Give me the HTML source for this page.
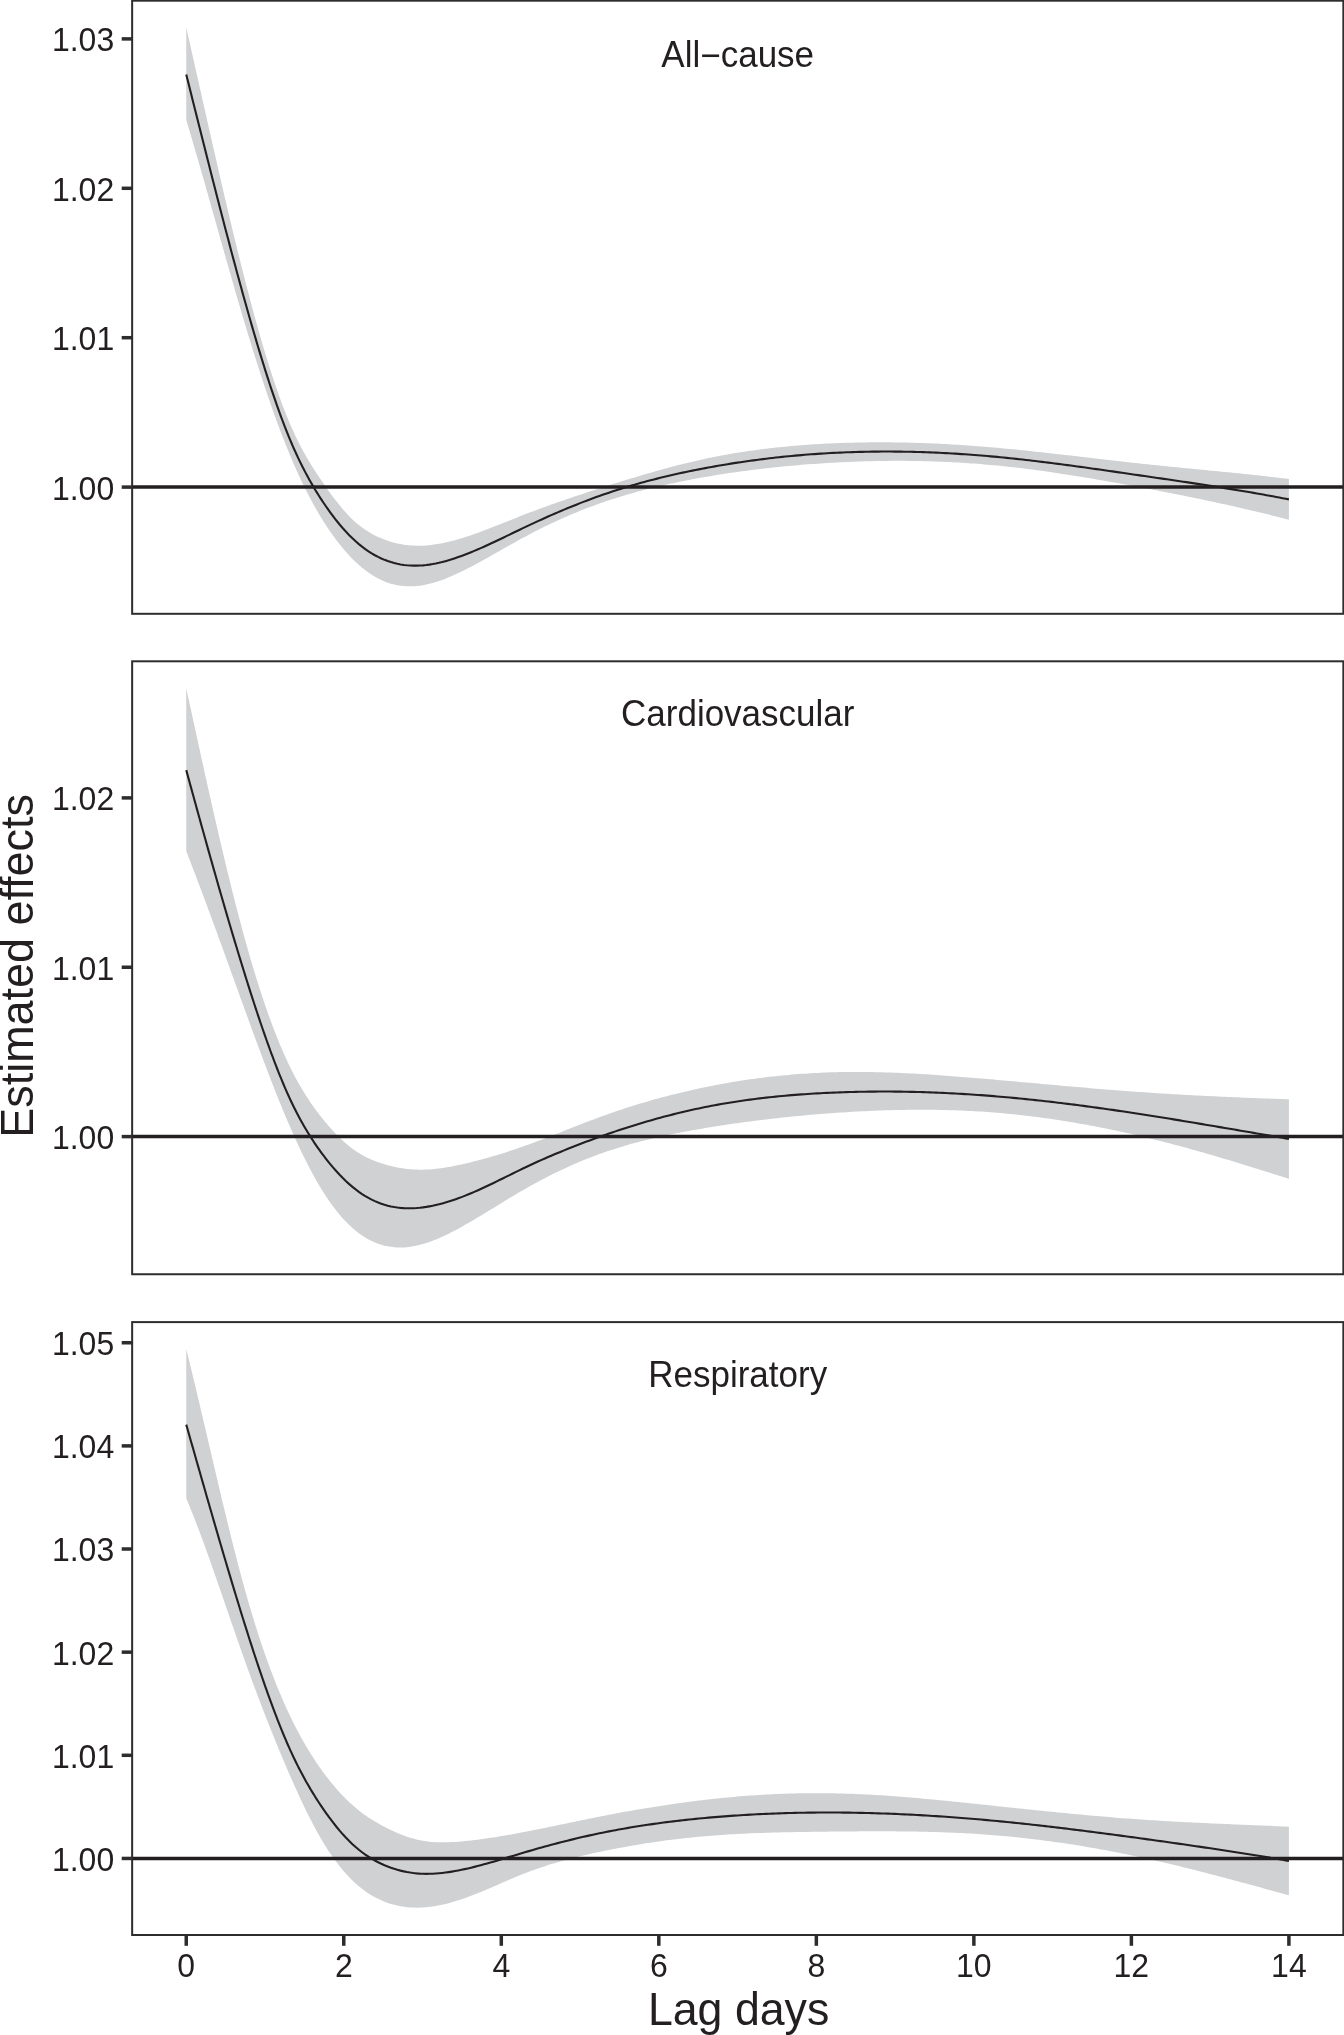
<!DOCTYPE html>
<html lang="en"><head><meta charset="utf-8"><title>Lag-response curves</title>
<style>html,body{margin:0;padding:0;background:#fff}svg{display:block;will-change:transform}</style></head>
<body>
<svg width="1344" height="2035" viewBox="0 0 1344 2035" font-family="'Liberation Sans', sans-serif" fill="#231f20">
<rect width="1344" height="2035" fill="#fff"/>
<path d="M186.25 27.50L187.45 32.78L188.65 38.07L189.84 43.37L191.04 48.68L192.24 53.99L193.44 59.31L194.64 64.63L195.83 69.96L197.03 75.29L198.23 80.62L199.43 85.95L200.62 91.28L201.82 96.60L203.02 101.93L204.22 107.25L205.42 112.57L206.61 117.89L207.81 123.19L209.01 128.50L210.21 133.79L211.41 139.08L212.60 144.35L213.80 149.62L215.00 154.87L216.20 160.12L217.40 165.35L218.59 170.56L219.79 175.76L220.99 180.95L222.19 186.12L223.39 191.27L224.58 196.40L225.78 201.52L226.98 206.61L228.18 211.68L229.38 216.73L230.57 221.76L231.77 226.76L232.97 231.74L234.17 236.70L235.36 241.63L236.56 246.53L237.76 251.40L238.96 256.24L240.16 261.05L241.35 265.84L242.55 270.59L243.75 275.30L244.95 279.99L246.15 284.64L247.34 289.25L248.54 293.83L249.74 298.37L250.94 302.87L252.14 307.34L253.33 311.76L254.53 316.15L255.73 320.49L256.93 324.79L258.12 329.05L259.32 333.27L260.52 337.44L261.72 341.56L262.92 345.64L264.11 349.68L265.31 353.66L266.51 357.60L267.71 361.49L268.91 365.33L270.10 369.11L271.30 372.85L272.50 376.53L273.70 380.16L274.90 383.74L276.09 387.26L277.29 390.72L278.49 394.13L279.69 397.48L280.89 400.78L282.08 404.01L283.28 407.18L284.48 410.30L285.68 413.35L286.88 416.34L288.07 419.26L289.27 422.13L290.47 424.93L291.67 427.66L292.86 430.33L294.06 432.94L295.26 435.49L296.46 437.99L297.66 440.43L298.85 442.82L300.05 445.16L301.25 447.44L302.45 449.69L303.65 451.88L304.84 454.04L306.04 456.15L307.24 458.23L308.44 460.27L309.64 462.27L310.83 464.24L312.03 466.18L313.23 468.10L314.43 469.98L315.62 471.84L316.82 473.68L318.02 475.49L319.22 477.29L320.42 479.07L321.61 480.83L322.81 482.59L324.01 484.32L325.21 486.05L326.41 487.76L327.60 489.45L328.80 491.13L330.00 492.79L333.21 497.14L336.41 501.34L339.62 505.37L342.83 509.21L346.04 512.86L349.24 516.28L352.45 519.46L355.66 522.39L358.86 525.09L362.07 527.56L365.28 529.81L368.48 531.87L371.69 533.74L374.90 535.44L378.11 536.97L381.31 538.36L384.52 539.62L387.73 540.75L390.93 541.76L394.14 542.66L397.35 543.43L400.55 544.09L403.76 544.64L406.97 545.08L410.18 545.40L413.38 545.62L416.59 545.74L419.80 545.75L423.00 545.66L426.21 545.47L429.42 545.19L432.62 544.82L435.83 544.36L439.04 543.83L442.25 543.22L445.45 542.54L448.66 541.80L451.87 540.99L455.07 540.13L458.28 539.22L461.49 538.26L464.69 537.25L467.90 536.21L471.11 535.13L474.32 534.02L477.52 532.88L480.73 531.71L483.94 530.51L487.14 529.30L490.35 528.07L493.56 526.82L496.77 525.56L499.97 524.29L503.18 523.01L506.39 521.72L509.59 520.44L512.80 519.16L516.01 517.88L519.21 516.61L522.42 515.34L525.63 514.10L528.84 512.86L532.04 511.64L535.25 510.44L538.46 509.24L541.66 508.06L544.87 506.90L548.08 505.74L551.28 504.60L554.49 503.46L557.70 502.34L560.91 501.23L564.11 500.13L567.32 499.03L570.53 497.94L573.73 496.87L576.94 495.80L580.15 494.73L583.35 493.67L586.56 492.62L589.77 491.57L592.98 490.53L596.18 489.49L599.39 488.46L602.60 487.43L605.80 486.40L609.01 485.37L612.22 484.35L615.43 483.34L618.63 482.33L621.84 481.33L625.05 480.33L628.25 479.34L631.46 478.36L634.67 477.38L637.87 476.41L641.08 475.45L644.29 474.50L647.50 473.56L650.70 472.63L653.91 471.71L657.12 470.80L660.32 469.90L663.53 469.02L666.74 468.14L669.94 467.28L673.15 466.44L676.36 465.60L679.57 464.78L682.77 463.98L685.98 463.18L689.19 462.41L692.39 461.65L695.60 460.91L698.81 460.18L702.01 459.47L705.22 458.78L708.43 458.11L711.64 457.45L714.84 456.81L718.05 456.19L721.26 455.58L724.46 454.99L727.67 454.42L730.88 453.86L734.08 453.32L737.29 452.79L740.50 452.28L743.71 451.78L746.91 451.30L750.12 450.83L753.33 450.38L756.53 449.94L759.74 449.52L762.95 449.11L766.16 448.72L769.36 448.33L772.57 447.97L775.78 447.61L778.98 447.27L782.19 446.94L785.40 446.63L788.60 446.32L791.81 446.03L795.02 445.76L798.23 445.49L801.43 445.24L804.64 444.99L807.85 444.76L811.05 444.54L814.26 444.34L817.47 444.14L820.67 443.95L823.88 443.78L827.09 443.61L830.30 443.46L833.50 443.31L836.71 443.18L839.92 443.05L843.12 442.94L846.33 442.83L849.54 442.74L852.74 442.65L855.95 442.57L859.16 442.51L862.37 442.45L865.57 442.40L868.78 442.37L871.99 442.34L875.19 442.32L878.40 442.31L881.61 442.31L884.82 442.31L888.02 442.33L891.23 442.36L894.44 442.39L897.64 442.43L900.85 442.49L904.06 442.55L907.26 442.62L910.47 442.69L913.68 442.78L916.89 442.88L920.09 442.98L923.30 443.09L926.51 443.21L929.71 443.34L932.92 443.47L936.13 443.62L939.33 443.77L942.54 443.93L945.75 444.10L948.96 444.27L952.16 444.46L955.37 444.65L958.58 444.85L961.78 445.05L964.99 445.26L968.20 445.49L971.40 445.71L974.61 445.95L977.82 446.19L981.03 446.44L984.23 446.70L987.44 446.96L990.65 447.23L993.85 447.51L997.06 447.79L1000.27 448.08L1003.47 448.38L1006.68 448.68L1009.89 448.99L1013.10 449.31L1016.30 449.62L1019.51 449.95L1022.72 450.28L1025.92 450.61L1029.13 450.95L1032.34 451.29L1035.55 451.63L1038.75 451.98L1041.96 452.34L1045.17 452.69L1048.37 453.05L1051.58 453.41L1054.79 453.77L1057.99 454.14L1061.20 454.51L1064.41 454.88L1067.62 455.25L1070.82 455.62L1074.03 456.00L1077.24 456.37L1080.44 456.75L1083.65 457.12L1086.86 457.50L1090.06 457.87L1093.27 458.25L1096.48 458.62L1099.69 459.00L1102.89 459.37L1106.10 459.74L1109.31 460.11L1112.51 460.48L1115.72 460.85L1118.93 461.21L1122.13 461.58L1125.34 461.94L1128.55 462.29L1131.76 462.65L1134.96 463.00L1138.17 463.35L1141.38 463.69L1144.58 464.03L1147.79 464.37L1151.00 464.70L1154.21 465.03L1157.41 465.36L1160.62 465.68L1163.83 466.00L1167.03 466.32L1170.24 466.64L1173.45 466.95L1176.65 467.27L1179.86 467.58L1183.07 467.89L1186.28 468.20L1189.48 468.52L1192.69 468.83L1195.90 469.13L1199.10 469.44L1202.31 469.75L1205.52 470.06L1208.72 470.38L1211.93 470.69L1215.14 471.00L1218.35 471.31L1221.55 471.63L1224.76 471.95L1227.97 472.27L1231.17 472.59L1234.38 472.91L1237.59 473.24L1240.79 473.57L1244.00 473.90L1247.21 474.24L1250.42 474.57L1253.62 474.92L1256.83 475.26L1260.04 475.62L1263.24 475.97L1266.45 476.33L1269.66 476.70L1272.86 477.07L1276.07 477.44L1279.28 477.82L1282.49 478.21L1285.69 478.60L1288.90 479.00L1288.90 519.75L1285.69 518.91L1282.49 518.09L1279.28 517.27L1276.07 516.45L1272.86 515.65L1269.66 514.85L1266.45 514.06L1263.24 513.27L1260.04 512.49L1256.83 511.72L1253.62 510.96L1250.42 510.20L1247.21 509.45L1244.00 508.71L1240.79 507.97L1237.59 507.23L1234.38 506.51L1231.17 505.79L1227.97 505.07L1224.76 504.36L1221.55 503.66L1218.35 502.96L1215.14 502.26L1211.93 501.58L1208.72 500.89L1205.52 500.21L1202.31 499.54L1199.10 498.87L1195.90 498.21L1192.69 497.55L1189.48 496.89L1186.28 496.24L1183.07 495.59L1179.86 494.95L1176.65 494.31L1173.45 493.67L1170.24 493.04L1167.03 492.41L1163.83 491.79L1160.62 491.17L1157.41 490.55L1154.21 489.93L1151.00 489.32L1147.79 488.71L1144.58 488.11L1141.38 487.50L1138.17 486.90L1134.96 486.30L1131.76 485.71L1128.55 485.11L1125.34 484.52L1122.13 483.94L1118.93 483.35L1115.72 482.77L1112.51 482.20L1109.31 481.63L1106.10 481.06L1102.89 480.50L1099.69 479.94L1096.48 479.38L1093.27 478.84L1090.06 478.29L1086.86 477.75L1083.65 477.22L1080.44 476.69L1077.24 476.17L1074.03 475.66L1070.82 475.15L1067.62 474.64L1064.41 474.15L1061.20 473.66L1057.99 473.17L1054.79 472.70L1051.58 472.23L1048.37 471.77L1045.17 471.32L1041.96 470.87L1038.75 470.43L1035.55 470.00L1032.34 469.58L1029.13 469.17L1025.92 468.76L1022.72 468.37L1019.51 467.98L1016.30 467.61L1013.10 467.24L1009.89 466.88L1006.68 466.53L1003.47 466.19L1000.27 465.87L997.06 465.55L993.85 465.24L990.65 464.94L987.44 464.66L984.23 464.38L981.03 464.12L977.82 463.86L974.61 463.62L971.40 463.39L968.20 463.17L964.99 462.96L961.78 462.76L958.58 462.57L955.37 462.39L952.16 462.22L948.96 462.06L945.75 461.91L942.54 461.77L939.33 461.64L936.13 461.52L932.92 461.41L929.71 461.31L926.51 461.22L923.30 461.14L920.09 461.07L916.89 461.01L913.68 460.96L910.47 460.92L907.26 460.89L904.06 460.87L900.85 460.86L897.64 460.85L894.44 460.86L891.23 460.87L888.02 460.90L884.82 460.93L881.61 460.98L878.40 461.03L875.19 461.09L871.99 461.16L868.78 461.24L865.57 461.32L862.37 461.42L859.16 461.53L855.95 461.64L852.74 461.76L849.54 461.89L846.33 462.03L843.12 462.18L839.92 462.34L836.71 462.50L833.50 462.68L830.30 462.86L827.09 463.05L823.88 463.24L820.67 463.45L817.47 463.66L814.26 463.89L811.05 464.12L807.85 464.36L804.64 464.61L801.43 464.86L798.23 465.13L795.02 465.41L791.81 465.69L788.60 465.98L785.40 466.28L782.19 466.60L778.98 466.92L775.78 467.25L772.57 467.58L769.36 467.93L766.16 468.29L762.95 468.66L759.74 469.03L756.53 469.42L753.33 469.82L750.12 470.22L746.91 470.64L743.71 471.07L740.50 471.50L737.29 471.95L734.08 472.41L730.88 472.87L727.67 473.35L724.46 473.84L721.26 474.33L718.05 474.84L714.84 475.36L711.64 475.89L708.43 476.43L705.22 476.98L702.01 477.54L698.81 478.12L695.60 478.70L692.39 479.30L689.19 479.90L685.98 480.52L682.77 481.16L679.57 481.80L676.36 482.46L673.15 483.14L669.94 483.83L666.74 484.53L663.53 485.25L660.32 485.99L657.12 486.74L653.91 487.51L650.70 488.30L647.50 489.10L644.29 489.92L641.08 490.76L637.87 491.62L634.67 492.50L631.46 493.40L628.25 494.32L625.05 495.26L621.84 496.23L618.63 497.21L615.43 498.22L612.22 499.24L609.01 500.30L605.80 501.37L602.60 502.47L599.39 503.59L596.18 504.74L592.98 505.92L589.77 507.11L586.56 508.34L583.35 509.58L580.15 510.86L576.94 512.16L573.73 513.48L570.53 514.83L567.32 516.20L564.11 517.60L560.91 519.02L557.70 520.47L554.49 521.95L551.28 523.45L548.08 524.98L544.87 526.53L541.66 528.10L538.46 529.71L535.25 531.34L532.04 532.99L528.84 534.67L525.63 536.38L522.42 538.11L519.21 539.87L516.01 541.64L512.80 543.43L509.59 545.24L506.39 547.05L503.18 548.87L499.97 550.70L496.77 552.52L493.56 554.34L490.35 556.15L487.14 557.95L483.94 559.73L480.73 561.50L477.52 563.25L474.32 564.97L471.11 566.66L467.90 568.32L464.69 569.95L461.49 571.54L458.28 573.08L455.07 574.57L451.87 576.00L448.66 577.37L445.45 578.67L442.25 579.89L439.04 581.02L435.83 582.06L432.62 583.01L429.42 583.85L426.21 584.59L423.00 585.20L419.80 585.69L416.59 586.06L413.38 586.28L410.18 586.37L406.97 586.31L403.76 586.11L400.55 585.74L397.35 585.22L394.14 584.53L390.93 583.68L387.73 582.64L384.52 581.43L381.31 580.03L378.11 578.45L374.90 576.67L371.69 574.71L368.48 572.56L365.28 570.21L362.07 567.67L358.86 564.94L355.66 562.01L352.45 558.88L349.24 555.55L346.04 552.02L342.83 548.30L339.62 544.36L336.41 540.22L333.21 535.87L330.00 531.31L328.80 529.55L327.60 527.76L326.41 525.95L325.21 524.10L324.01 522.22L322.81 520.31L321.61 518.37L320.42 516.41L319.22 514.41L318.02 512.38L316.82 510.31L315.62 508.22L314.43 506.09L313.23 503.93L312.03 501.74L310.83 499.52L309.64 497.26L308.44 494.97L307.24 492.64L306.04 490.28L304.84 487.89L303.65 485.46L302.45 483.00L301.25 480.50L300.05 477.96L298.85 475.39L297.66 472.78L296.46 470.13L295.26 467.45L294.06 464.73L292.86 461.97L291.67 459.18L290.47 456.35L289.27 453.47L288.07 450.56L286.88 447.61L285.68 444.63L284.48 441.60L283.28 438.54L282.08 435.44L280.89 432.31L279.69 429.14L278.49 425.94L277.29 422.70L276.09 419.43L274.90 416.13L273.70 412.79L272.50 409.42L271.30 406.02L270.10 402.59L268.91 399.12L267.71 395.63L266.51 392.10L265.31 388.55L264.11 384.97L262.92 381.35L261.72 377.71L260.52 374.04L259.32 370.35L258.12 366.62L256.93 362.87L255.73 359.10L254.53 355.30L253.33 351.47L252.14 347.62L250.94 343.75L249.74 339.85L248.54 335.93L247.34 331.98L246.15 328.02L244.95 324.03L243.75 320.02L242.55 315.99L241.35 311.94L240.16 307.87L238.96 303.78L237.76 299.68L236.56 295.56L235.36 291.43L234.17 287.28L232.97 283.12L231.77 278.95L230.57 274.76L229.38 270.57L228.18 266.36L226.98 262.15L225.78 257.93L224.58 253.70L223.39 249.46L222.19 245.22L220.99 240.98L219.79 236.73L218.59 232.48L217.40 228.23L216.20 223.97L215.00 219.72L213.80 215.47L212.60 211.22L211.41 206.97L210.21 202.73L209.01 198.49L207.81 194.25L206.61 190.03L205.42 185.81L204.22 181.60L203.02 177.39L201.82 173.20L200.62 169.02L199.43 164.85L198.23 160.69L197.03 156.55L195.83 152.42L194.64 148.30L193.44 144.20L192.24 140.12L191.04 136.06L189.84 132.01L188.65 127.99L187.45 123.98L186.25 120.00Z" fill="#d0d1d3"/>
<path d="M186.25 74.50L187.45 79.28L188.65 84.05L189.84 88.83L191.04 93.61L192.24 98.39L193.44 103.17L194.64 107.94L195.83 112.72L197.03 117.50L198.23 122.27L199.43 127.04L200.62 131.80L201.82 136.56L203.02 141.32L204.22 146.07L205.42 150.82L206.61 155.56L207.81 160.30L209.01 165.02L210.21 169.74L211.41 174.46L212.60 179.16L213.80 183.86L215.00 188.54L216.20 193.22L217.40 197.89L218.59 202.54L219.79 207.19L220.99 211.82L222.19 216.44L223.39 221.05L224.58 225.65L225.78 230.23L226.98 234.80L228.18 239.35L229.38 243.89L230.57 248.41L231.77 252.92L232.97 257.41L234.17 261.88L235.36 266.34L236.56 270.78L237.76 275.19L238.96 279.59L240.16 283.98L241.35 288.34L242.55 292.68L243.75 297.00L244.95 301.29L246.15 305.57L247.34 309.82L248.54 314.05L249.74 318.26L250.94 322.44L252.14 326.59L253.33 330.72L254.53 334.82L255.73 338.89L256.93 342.93L258.12 346.94L259.32 350.92L260.52 354.87L261.72 358.79L262.92 362.67L264.11 366.52L265.31 370.33L266.51 374.10L267.71 377.84L268.91 381.54L270.10 385.20L271.30 388.83L272.50 392.41L273.70 395.95L274.90 399.45L276.09 402.90L277.29 406.31L278.49 409.68L279.69 413.00L280.89 416.28L282.08 419.51L283.28 422.69L284.48 425.82L285.68 428.90L286.88 431.93L288.07 434.91L289.27 437.84L290.47 440.71L291.67 443.53L292.86 446.30L294.06 449.02L295.26 451.69L296.46 454.31L297.66 456.88L298.85 459.40L300.05 461.88L301.25 464.31L302.45 466.71L303.65 469.05L304.84 471.36L306.04 473.63L307.24 475.85L308.44 478.04L309.64 480.19L310.83 482.31L312.03 484.39L313.23 486.44L314.43 488.45L315.62 490.43L316.82 492.38L318.02 494.31L319.22 496.20L320.42 498.06L321.61 499.90L322.81 501.72L324.01 503.51L325.21 505.27L326.41 507.01L327.60 508.72L328.80 510.41L330.00 512.07L333.21 516.39L336.41 520.52L339.62 524.47L342.83 528.22L346.04 531.78L349.24 535.15L352.45 538.32L355.66 541.30L358.86 544.08L362.07 546.67L365.28 549.08L368.48 551.30L371.69 553.35L374.90 555.22L378.11 556.92L381.31 558.46L384.52 559.84L387.73 561.06L390.93 562.12L394.14 563.04L397.35 563.81L400.55 564.44L403.76 564.94L406.97 565.30L410.18 565.54L413.38 565.66L416.59 565.66L419.80 565.55L423.00 565.33L426.21 565.01L429.42 564.59L432.62 564.07L435.83 563.47L439.04 562.78L442.25 562.01L445.45 561.16L448.66 560.24L451.87 559.25L455.07 558.21L458.28 557.10L461.49 555.94L464.69 554.73L467.90 553.48L471.11 552.19L474.32 550.86L477.52 549.49L480.73 548.10L483.94 546.67L487.14 545.22L490.35 543.75L493.56 542.25L496.77 540.74L499.97 539.22L503.18 537.68L506.39 536.14L509.59 534.59L512.80 533.04L516.01 531.49L519.21 529.94L522.42 528.41L525.63 526.88L528.84 525.36L532.04 523.86L535.25 522.37L538.46 520.90L541.66 519.44L544.87 517.99L548.08 516.56L551.28 515.14L554.49 513.74L557.70 512.35L560.91 510.98L564.11 509.63L567.32 508.30L570.53 506.98L573.73 505.68L576.94 504.40L580.15 503.13L583.35 501.89L586.56 500.66L589.77 499.45L592.98 498.27L596.18 497.10L599.39 495.95L602.60 494.83L605.80 493.72L609.01 492.64L612.22 491.57L615.43 490.53L618.63 489.50L621.84 488.50L625.05 487.51L628.25 486.54L631.46 485.59L634.67 484.66L637.87 483.75L641.08 482.85L644.29 481.97L647.50 481.11L650.70 480.26L653.91 479.43L657.12 478.62L660.32 477.82L663.53 477.04L666.74 476.27L669.94 475.52L673.15 474.78L676.36 474.05L679.57 473.34L682.77 472.65L685.98 471.96L689.19 471.29L692.39 470.63L695.60 469.99L698.81 469.36L702.01 468.73L705.22 468.12L708.43 467.52L711.64 466.94L714.84 466.36L718.05 465.80L721.26 465.25L724.46 464.71L727.67 464.18L730.88 463.66L734.08 463.15L737.29 462.66L740.50 462.17L743.71 461.70L746.91 461.24L750.12 460.79L753.33 460.35L756.53 459.92L759.74 459.50L762.95 459.10L766.16 458.70L769.36 458.32L772.57 457.94L775.78 457.58L778.98 457.23L782.19 456.89L785.40 456.56L788.60 456.24L791.81 455.94L795.02 455.64L798.23 455.35L801.43 455.08L804.64 454.81L807.85 454.56L811.05 454.31L814.26 454.08L817.47 453.86L820.67 453.65L823.88 453.45L827.09 453.25L830.30 453.07L833.50 452.90L836.71 452.74L839.92 452.59L843.12 452.45L846.33 452.32L849.54 452.21L852.74 452.10L855.95 452.00L859.16 451.91L862.37 451.83L865.57 451.76L868.78 451.70L871.99 451.65L875.19 451.61L878.40 451.58L881.61 451.56L884.82 451.55L888.02 451.55L891.23 451.56L894.44 451.58L897.64 451.61L900.85 451.64L904.06 451.69L907.26 451.75L910.47 451.81L913.68 451.88L916.89 451.97L920.09 452.06L923.30 452.16L926.51 452.27L929.71 452.39L932.92 452.52L936.13 452.66L939.33 452.81L942.54 452.96L945.75 453.13L948.96 453.30L952.16 453.48L955.37 453.67L958.58 453.87L961.78 454.08L964.99 454.30L968.20 454.52L971.40 454.76L974.61 455.00L977.82 455.25L981.03 455.51L984.23 455.77L987.44 456.05L990.65 456.33L993.85 456.62L997.06 456.92L1000.27 457.23L1003.47 457.54L1006.68 457.86L1009.89 458.19L1013.10 458.53L1016.30 458.87L1019.51 459.22L1022.72 459.58L1025.92 459.94L1029.13 460.31L1032.34 460.68L1035.55 461.06L1038.75 461.44L1041.96 461.84L1045.17 462.23L1048.37 462.63L1051.58 463.04L1054.79 463.45L1057.99 463.86L1061.20 464.28L1064.41 464.70L1067.62 465.13L1070.82 465.56L1074.03 466.00L1077.24 466.43L1080.44 466.87L1083.65 467.32L1086.86 467.76L1090.06 468.21L1093.27 468.67L1096.48 469.12L1099.69 469.57L1102.89 470.03L1106.10 470.49L1109.31 470.95L1112.51 471.41L1115.72 471.88L1118.93 472.34L1122.13 472.81L1125.34 473.27L1128.55 473.74L1131.76 474.21L1134.96 474.67L1138.17 475.14L1141.38 475.60L1144.58 476.07L1147.79 476.53L1151.00 477.00L1154.21 477.46L1157.41 477.93L1160.62 478.40L1163.83 478.86L1167.03 479.33L1170.24 479.80L1173.45 480.27L1176.65 480.74L1179.86 481.21L1183.07 481.69L1186.28 482.16L1189.48 482.64L1192.69 483.12L1195.90 483.61L1199.10 484.09L1202.31 484.58L1205.52 485.07L1208.72 485.56L1211.93 486.06L1215.14 486.56L1218.35 487.07L1221.55 487.57L1224.76 488.09L1227.97 488.60L1231.17 489.12L1234.38 489.65L1237.59 490.18L1240.79 490.71L1244.00 491.25L1247.21 491.79L1250.42 492.34L1253.62 492.90L1256.83 493.46L1260.04 494.02L1263.24 494.59L1266.45 495.17L1269.66 495.75L1272.86 496.34L1276.07 496.94L1279.28 497.55L1282.49 498.16L1285.69 498.77L1288.90 499.40" fill="none" stroke="#231f20" stroke-width="2.1"/>
<line x1="132.15" x2="1343.35" y1="487.1" y2="487.1" stroke="#231f20" stroke-width="3.5"/>
<rect x="132.15" y="0.7" width="1211.1999999999998" height="613.10" fill="none" stroke="#2e2c2d" stroke-width="2"/>
<line x1="121.7" x2="132.15" y1="38.9" y2="38.9" stroke="#2e2c2d" stroke-width="3.5"/>
<text transform="translate(114.2 51.3) scale(1 1.045)" font-size="32" text-anchor="end">1.03</text>
<line x1="121.7" x2="132.15" y1="188.3" y2="188.3" stroke="#2e2c2d" stroke-width="3.5"/>
<text transform="translate(114.2 200.7) scale(1 1.045)" font-size="32" text-anchor="end">1.02</text>
<line x1="121.7" x2="132.15" y1="337.7" y2="337.7" stroke="#2e2c2d" stroke-width="3.5"/>
<text transform="translate(114.2 350.1) scale(1 1.045)" font-size="32" text-anchor="end">1.01</text>
<line x1="121.7" x2="132.15" y1="487.1" y2="487.1" stroke="#2e2c2d" stroke-width="3.5"/>
<text transform="translate(114.2 499.5) scale(1 1.045)" font-size="32" text-anchor="end">1.00</text>
<text transform="translate(737.7 66.6) scale(1 1.04)" font-size="35" text-anchor="middle">All<tspan dy="1.6">−</tspan><tspan dy="-1.6">cause</tspan></text>
<path d="M186.25 688.25L187.45 693.78L188.65 699.30L189.84 704.82L191.04 710.33L192.24 715.85L193.44 721.35L194.64 726.85L195.83 732.35L197.03 737.83L198.23 743.31L199.43 748.78L200.62 754.23L201.82 759.68L203.02 765.11L204.22 770.52L205.42 775.93L206.61 781.31L207.81 786.68L209.01 792.03L210.21 797.36L211.41 802.67L212.60 807.96L213.80 813.23L215.00 818.47L216.20 823.70L217.40 828.89L218.59 834.06L219.79 839.21L220.99 844.32L222.19 849.41L223.39 854.46L224.58 859.49L225.78 864.48L226.98 869.44L228.18 874.37L229.38 879.26L230.57 884.12L231.77 888.94L232.97 893.72L234.17 898.46L235.36 903.16L236.56 907.82L237.76 912.44L238.96 917.02L240.16 921.55L241.35 926.04L242.55 930.49L243.75 934.88L244.95 939.23L246.15 943.53L247.34 947.78L248.54 951.98L249.74 956.13L250.94 960.24L252.14 964.29L253.33 968.30L254.53 972.25L255.73 976.16L256.93 980.02L258.12 983.83L259.32 987.59L260.52 991.29L261.72 994.96L262.92 998.57L264.11 1002.13L265.31 1005.64L266.51 1009.10L267.71 1012.51L268.91 1015.88L270.10 1019.19L271.30 1022.45L272.50 1025.67L273.70 1028.83L274.90 1031.94L276.09 1035.01L277.29 1038.02L278.49 1040.98L279.69 1043.89L280.89 1046.76L282.08 1049.57L283.28 1052.33L284.48 1055.04L285.68 1057.71L286.88 1060.32L288.07 1062.88L289.27 1065.39L290.47 1067.85L291.67 1070.25L292.86 1072.62L294.06 1074.93L295.26 1077.19L296.46 1079.41L297.66 1081.59L298.85 1083.72L300.05 1085.81L301.25 1087.86L302.45 1089.87L303.65 1091.84L304.84 1093.77L306.04 1095.66L307.24 1097.52L308.44 1099.35L309.64 1101.14L310.83 1102.90L312.03 1104.63L313.23 1106.33L314.43 1108.00L315.62 1109.64L316.82 1111.26L318.02 1112.85L319.22 1114.41L320.42 1115.96L321.61 1117.48L322.81 1118.98L324.01 1120.46L325.21 1121.92L326.41 1123.36L327.60 1124.77L328.80 1126.17L330.00 1127.54L333.21 1131.10L336.41 1134.50L339.62 1137.72L342.83 1140.76L346.04 1143.62L349.24 1146.28L352.45 1148.75L355.66 1151.02L358.86 1153.10L362.07 1155.01L365.28 1156.75L368.48 1158.33L371.69 1159.78L374.90 1161.09L378.11 1162.29L381.31 1163.37L384.52 1164.37L387.73 1165.27L390.93 1166.09L394.14 1166.83L397.35 1167.48L400.55 1168.05L403.76 1168.53L406.97 1168.93L410.18 1169.24L413.38 1169.47L416.59 1169.61L419.80 1169.68L423.00 1169.65L426.21 1169.55L429.42 1169.38L432.62 1169.13L435.83 1168.81L439.04 1168.44L442.25 1168.00L445.45 1167.51L448.66 1166.97L451.87 1166.39L455.07 1165.76L458.28 1165.10L461.49 1164.40L464.69 1163.68L467.90 1162.93L471.11 1162.15L474.32 1161.36L477.52 1160.54L480.73 1159.69L483.94 1158.83L487.14 1157.94L490.35 1157.03L493.56 1156.09L496.77 1155.14L499.97 1154.16L503.18 1153.16L506.39 1152.14L509.59 1151.11L512.80 1150.04L516.01 1148.96L519.21 1147.86L522.42 1146.74L525.63 1145.60L528.84 1144.44L532.04 1143.27L535.25 1142.07L538.46 1140.87L541.66 1139.64L544.87 1138.41L548.08 1137.17L551.28 1135.92L554.49 1134.67L557.70 1133.40L560.91 1132.14L564.11 1130.87L567.32 1129.60L570.53 1128.34L573.73 1127.07L576.94 1125.81L580.15 1124.56L583.35 1123.31L586.56 1122.08L589.77 1120.85L592.98 1119.63L596.18 1118.43L599.39 1117.25L602.60 1116.08L605.80 1114.92L609.01 1113.79L612.22 1112.67L615.43 1111.57L618.63 1110.48L621.84 1109.41L625.05 1108.36L628.25 1107.32L631.46 1106.30L634.67 1105.30L637.87 1104.31L641.08 1103.34L644.29 1102.39L647.50 1101.45L650.70 1100.52L653.91 1099.61L657.12 1098.72L660.32 1097.84L663.53 1096.98L666.74 1096.14L669.94 1095.31L673.15 1094.49L676.36 1093.69L679.57 1092.91L682.77 1092.14L685.98 1091.38L689.19 1090.64L692.39 1089.92L695.60 1089.21L698.81 1088.51L702.01 1087.83L705.22 1087.17L708.43 1086.51L711.64 1085.88L714.84 1085.25L718.05 1084.65L721.26 1084.05L724.46 1083.47L727.67 1082.91L730.88 1082.36L734.08 1081.82L737.29 1081.30L740.50 1080.79L743.71 1080.30L746.91 1079.82L750.12 1079.36L753.33 1078.91L756.53 1078.47L759.74 1078.05L762.95 1077.64L766.16 1077.25L769.36 1076.87L772.57 1076.51L775.78 1076.15L778.98 1075.82L782.19 1075.50L785.40 1075.19L788.60 1074.90L791.81 1074.62L795.02 1074.35L798.23 1074.10L801.43 1073.86L804.64 1073.64L807.85 1073.43L811.05 1073.24L814.26 1073.05L817.47 1072.89L820.67 1072.73L823.88 1072.59L827.09 1072.47L830.30 1072.36L833.50 1072.26L836.71 1072.18L839.92 1072.11L843.12 1072.05L846.33 1072.01L849.54 1071.97L852.74 1071.96L855.95 1071.95L859.16 1071.95L862.37 1071.97L865.57 1072.00L868.78 1072.04L871.99 1072.09L875.19 1072.15L878.40 1072.22L881.61 1072.30L884.82 1072.39L888.02 1072.49L891.23 1072.60L894.44 1072.72L897.64 1072.85L900.85 1072.99L904.06 1073.13L907.26 1073.29L910.47 1073.45L913.68 1073.62L916.89 1073.79L920.09 1073.98L923.30 1074.17L926.51 1074.37L929.71 1074.57L932.92 1074.78L936.13 1075.00L939.33 1075.22L942.54 1075.44L945.75 1075.68L948.96 1075.91L952.16 1076.15L955.37 1076.40L958.58 1076.65L961.78 1076.91L964.99 1077.16L968.20 1077.43L971.40 1077.69L974.61 1077.96L977.82 1078.23L981.03 1078.50L984.23 1078.77L987.44 1079.05L990.65 1079.33L993.85 1079.61L997.06 1079.89L1000.27 1080.17L1003.47 1080.46L1006.68 1080.74L1009.89 1081.03L1013.10 1081.31L1016.30 1081.60L1019.51 1081.89L1022.72 1082.18L1025.92 1082.46L1029.13 1082.75L1032.34 1083.04L1035.55 1083.33L1038.75 1083.62L1041.96 1083.91L1045.17 1084.20L1048.37 1084.48L1051.58 1084.77L1054.79 1085.06L1057.99 1085.34L1061.20 1085.63L1064.41 1085.91L1067.62 1086.19L1070.82 1086.47L1074.03 1086.75L1077.24 1087.03L1080.44 1087.31L1083.65 1087.58L1086.86 1087.86L1090.06 1088.13L1093.27 1088.40L1096.48 1088.66L1099.69 1088.93L1102.89 1089.19L1106.10 1089.45L1109.31 1089.71L1112.51 1089.96L1115.72 1090.21L1118.93 1090.46L1122.13 1090.71L1125.34 1090.95L1128.55 1091.19L1131.76 1091.43L1134.96 1091.66L1138.17 1091.89L1141.38 1092.11L1144.58 1092.33L1147.79 1092.55L1151.00 1092.77L1154.21 1092.98L1157.41 1093.18L1160.62 1093.39L1163.83 1093.59L1167.03 1093.78L1170.24 1093.98L1173.45 1094.17L1176.65 1094.35L1179.86 1094.54L1183.07 1094.72L1186.28 1094.89L1189.48 1095.07L1192.69 1095.24L1195.90 1095.41L1199.10 1095.57L1202.31 1095.74L1205.52 1095.90L1208.72 1096.05L1211.93 1096.21L1215.14 1096.36L1218.35 1096.51L1221.55 1096.66L1224.76 1096.80L1227.97 1096.95L1231.17 1097.09L1234.38 1097.23L1237.59 1097.36L1240.79 1097.50L1244.00 1097.63L1247.21 1097.76L1250.42 1097.89L1253.62 1098.01L1256.83 1098.14L1260.04 1098.26L1263.24 1098.38L1266.45 1098.50L1269.66 1098.62L1272.86 1098.74L1276.07 1098.85L1279.28 1098.97L1282.49 1099.08L1285.69 1099.19L1288.90 1099.30L1288.90 1178.90L1285.69 1177.87L1282.49 1176.84L1279.28 1175.81L1276.07 1174.79L1272.86 1173.77L1269.66 1172.75L1266.45 1171.74L1263.24 1170.73L1260.04 1169.72L1256.83 1168.71L1253.62 1167.71L1250.42 1166.72L1247.21 1165.72L1244.00 1164.74L1240.79 1163.75L1237.59 1162.77L1234.38 1161.80L1231.17 1160.83L1227.97 1159.86L1224.76 1158.90L1221.55 1157.95L1218.35 1157.00L1215.14 1156.06L1211.93 1155.12L1208.72 1154.19L1205.52 1153.26L1202.31 1152.34L1199.10 1151.43L1195.90 1150.53L1192.69 1149.63L1189.48 1148.74L1186.28 1147.85L1183.07 1146.98L1179.86 1146.11L1176.65 1145.25L1173.45 1144.39L1170.24 1143.55L1167.03 1142.71L1163.83 1141.88L1160.62 1141.06L1157.41 1140.25L1154.21 1139.45L1151.00 1138.65L1147.79 1137.87L1144.58 1137.09L1141.38 1136.33L1138.17 1135.57L1134.96 1134.83L1131.76 1134.09L1128.55 1133.36L1125.34 1132.65L1122.13 1131.94L1118.93 1131.25L1115.72 1130.56L1112.51 1129.88L1109.31 1129.22L1106.10 1128.56L1102.89 1127.92L1099.69 1127.28L1096.48 1126.66L1093.27 1126.05L1090.06 1125.44L1086.86 1124.85L1083.65 1124.27L1080.44 1123.70L1077.24 1123.14L1074.03 1122.59L1070.82 1122.05L1067.62 1121.52L1064.41 1121.01L1061.20 1120.50L1057.99 1120.01L1054.79 1119.52L1051.58 1119.05L1048.37 1118.59L1045.17 1118.14L1041.96 1117.70L1038.75 1117.28L1035.55 1116.86L1032.34 1116.46L1029.13 1116.07L1025.92 1115.69L1022.72 1115.32L1019.51 1114.96L1016.30 1114.62L1013.10 1114.28L1009.89 1113.96L1006.68 1113.65L1003.47 1113.36L1000.27 1113.07L997.06 1112.80L993.85 1112.54L990.65 1112.29L987.44 1112.05L984.23 1111.83L981.03 1111.62L977.82 1111.42L974.61 1111.23L971.40 1111.06L968.20 1110.89L964.99 1110.74L961.78 1110.60L958.58 1110.47L955.37 1110.35L952.16 1110.24L948.96 1110.14L945.75 1110.06L942.54 1109.98L939.33 1109.92L936.13 1109.87L932.92 1109.82L929.71 1109.79L926.51 1109.77L923.30 1109.75L920.09 1109.75L916.89 1109.76L913.68 1109.77L910.47 1109.80L907.26 1109.84L904.06 1109.88L900.85 1109.94L897.64 1110.00L894.44 1110.08L891.23 1110.16L888.02 1110.25L884.82 1110.35L881.61 1110.46L878.40 1110.57L875.19 1110.70L871.99 1110.83L868.78 1110.98L865.57 1111.13L862.37 1111.28L859.16 1111.45L855.95 1111.62L852.74 1111.80L849.54 1111.99L846.33 1112.19L843.12 1112.39L839.92 1112.60L836.71 1112.82L833.50 1113.05L830.30 1113.28L827.09 1113.52L823.88 1113.76L820.67 1114.02L817.47 1114.27L814.26 1114.54L811.05 1114.81L807.85 1115.09L804.64 1115.38L801.43 1115.68L798.23 1115.98L795.02 1116.29L791.81 1116.60L788.60 1116.92L785.40 1117.26L782.19 1117.59L778.98 1117.94L775.78 1118.29L772.57 1118.65L769.36 1119.02L766.16 1119.40L762.95 1119.78L759.74 1120.18L756.53 1120.58L753.33 1120.98L750.12 1121.40L746.91 1121.82L743.71 1122.25L740.50 1122.69L737.29 1123.14L734.08 1123.60L730.88 1124.06L727.67 1124.54L724.46 1125.02L721.26 1125.51L718.05 1126.01L714.84 1126.51L711.64 1127.03L708.43 1127.55L705.22 1128.08L702.01 1128.63L698.81 1129.18L695.60 1129.74L692.39 1130.30L689.19 1130.88L685.98 1131.47L682.77 1132.08L679.57 1132.69L676.36 1133.32L673.15 1133.96L669.94 1134.62L666.74 1135.29L663.53 1135.98L660.32 1136.68L657.12 1137.40L653.91 1138.14L650.70 1138.90L647.50 1139.68L644.29 1140.47L641.08 1141.29L637.87 1142.13L634.67 1142.99L631.46 1143.87L628.25 1144.78L625.05 1145.71L621.84 1146.67L618.63 1147.65L615.43 1148.65L612.22 1149.69L609.01 1150.75L605.80 1151.84L602.60 1152.96L599.39 1154.10L596.18 1155.28L592.98 1156.49L589.77 1157.73L586.56 1158.99L583.35 1160.29L580.15 1161.62L576.94 1162.97L573.73 1164.36L570.53 1165.77L567.32 1167.22L564.11 1168.69L560.91 1170.19L557.70 1171.72L554.49 1173.28L551.28 1174.87L548.08 1176.49L544.87 1178.14L541.66 1179.82L538.46 1181.52L535.25 1183.25L532.04 1185.02L528.84 1186.81L525.63 1188.63L522.42 1190.47L519.21 1192.35L516.01 1194.24L512.80 1196.16L509.59 1198.09L506.39 1200.03L503.18 1201.99L499.97 1203.95L496.77 1205.92L493.56 1207.88L490.35 1209.85L487.14 1211.81L483.94 1213.76L480.73 1215.70L477.52 1217.62L474.32 1219.53L471.11 1221.42L467.90 1223.28L464.69 1225.11L461.49 1226.92L458.28 1228.68L455.07 1230.41L451.87 1232.08L448.66 1233.70L445.45 1235.27L442.25 1236.76L439.04 1238.18L435.83 1239.53L432.62 1240.79L429.42 1241.96L426.21 1243.03L423.00 1244.01L419.80 1244.87L416.59 1245.62L413.38 1246.25L410.18 1246.76L406.97 1247.14L403.76 1247.38L400.55 1247.47L397.35 1247.43L394.14 1247.22L390.93 1246.86L387.73 1246.34L384.52 1245.65L381.31 1244.78L378.11 1243.73L374.90 1242.49L371.69 1241.06L368.48 1239.43L365.28 1237.60L362.07 1235.54L358.86 1233.27L355.66 1230.78L352.45 1228.05L349.24 1225.08L346.04 1221.87L342.83 1218.42L339.62 1214.72L336.41 1210.78L333.21 1206.59L330.00 1202.16L328.80 1200.44L327.60 1198.68L326.41 1196.89L325.21 1195.07L324.01 1193.21L322.81 1191.31L321.61 1189.38L320.42 1187.41L319.22 1185.41L318.02 1183.38L316.82 1181.31L315.62 1179.20L314.43 1177.07L313.23 1174.90L312.03 1172.70L310.83 1170.46L309.64 1168.19L308.44 1165.89L307.24 1163.56L306.04 1161.20L304.84 1158.81L303.65 1156.39L302.45 1153.94L301.25 1151.46L300.05 1148.94L298.85 1146.40L297.66 1143.84L296.46 1141.24L295.26 1138.61L294.06 1135.96L292.86 1133.28L291.67 1130.58L290.47 1127.84L289.27 1125.09L288.07 1122.30L286.88 1119.49L285.68 1116.66L284.48 1113.80L283.28 1110.92L282.08 1108.01L280.89 1105.09L279.69 1102.14L278.49 1099.17L277.29 1096.19L276.09 1093.18L274.90 1090.15L273.70 1087.11L272.50 1084.05L271.30 1080.97L270.10 1077.87L268.91 1074.76L267.71 1071.63L266.51 1068.49L265.31 1065.34L264.11 1062.17L262.92 1058.98L261.72 1055.79L260.52 1052.59L259.32 1049.37L258.12 1046.14L256.93 1042.91L255.73 1039.66L254.53 1036.41L253.33 1033.15L252.14 1029.88L250.94 1026.60L249.74 1023.32L248.54 1020.03L247.34 1016.74L246.15 1013.44L244.95 1010.14L243.75 1006.84L242.55 1003.54L241.35 1000.23L240.16 996.92L238.96 993.61L237.76 990.29L236.56 986.98L235.36 983.67L234.17 980.35L232.97 977.04L231.77 973.72L230.57 970.41L229.38 967.10L228.18 963.78L226.98 960.48L225.78 957.17L224.58 953.86L223.39 950.56L222.19 947.26L220.99 943.96L219.79 940.67L218.59 937.38L217.40 934.09L216.20 930.81L215.00 927.54L213.80 924.27L212.60 921.00L211.41 917.74L210.21 914.49L209.01 911.25L207.81 908.01L206.61 904.77L205.42 901.55L204.22 898.33L203.02 895.12L201.82 891.92L200.62 888.73L199.43 885.55L198.23 882.38L197.03 879.22L195.83 876.06L194.64 872.92L193.44 869.79L192.24 866.67L191.04 863.56L189.84 860.47L188.65 857.38L187.45 854.31L186.25 851.25Z" fill="#d0d1d3"/>
<path d="M186.25 770.12L187.45 774.50L188.65 778.88L189.84 783.25L191.04 787.62L192.24 791.98L193.44 796.34L194.64 800.69L195.83 805.04L197.03 809.38L198.23 813.72L199.43 818.04L200.62 822.37L201.82 826.68L203.02 830.99L204.22 835.29L205.42 839.58L206.61 843.86L207.81 848.14L209.01 852.40L210.21 856.66L211.41 860.91L212.60 865.14L213.80 869.37L215.00 873.58L216.20 877.79L217.40 881.98L218.59 886.17L219.79 890.34L220.99 894.50L222.19 898.64L223.39 902.78L224.58 906.90L225.78 911.00L226.98 915.10L228.18 919.18L229.38 923.24L230.57 927.29L231.77 931.33L232.97 935.35L234.17 939.35L235.36 943.34L236.56 947.32L237.76 951.27L238.96 955.21L240.16 959.14L241.35 963.04L242.55 966.93L243.75 970.80L244.95 974.65L246.15 978.48L247.34 982.30L248.54 986.09L249.74 989.86L250.94 993.61L252.14 997.34L253.33 1001.05L254.53 1004.73L255.73 1008.38L256.93 1012.01L258.12 1015.61L259.32 1019.19L260.52 1022.74L261.72 1026.26L262.92 1029.74L264.11 1033.20L265.31 1036.63L266.51 1040.02L267.71 1043.39L268.91 1046.71L270.10 1050.01L271.30 1053.27L272.50 1056.49L273.70 1059.67L274.90 1062.82L276.09 1065.93L277.29 1069.00L278.49 1072.03L279.69 1075.02L280.89 1077.97L282.08 1080.87L283.28 1083.73L284.48 1086.55L285.68 1089.32L286.88 1092.05L288.07 1094.73L289.27 1097.37L290.47 1099.95L291.67 1102.49L292.86 1104.98L294.06 1107.42L295.26 1109.82L296.46 1112.18L297.66 1114.49L298.85 1116.76L300.05 1118.98L301.25 1121.17L302.45 1123.32L303.65 1125.42L304.84 1127.49L306.04 1129.53L307.24 1131.52L308.44 1133.49L309.64 1135.41L310.83 1137.31L312.03 1139.17L313.23 1141.00L314.43 1142.80L315.62 1144.58L316.82 1146.32L318.02 1148.04L319.22 1149.73L320.42 1151.39L321.61 1153.03L322.81 1154.64L324.01 1156.23L325.21 1157.80L326.41 1159.35L327.60 1160.87L328.80 1162.36L330.00 1163.84L333.21 1167.66L336.41 1171.31L339.62 1174.78L342.83 1178.08L346.04 1181.19L349.24 1184.12L352.45 1186.87L355.66 1189.43L358.86 1191.81L362.07 1194.02L365.28 1196.04L368.48 1197.90L371.69 1199.59L374.90 1201.12L378.11 1202.48L381.31 1203.69L384.52 1204.74L387.73 1205.65L390.93 1206.41L394.14 1207.04L397.35 1207.53L400.55 1207.89L403.76 1208.13L406.97 1208.26L410.18 1208.27L413.38 1208.18L416.59 1208.00L419.80 1207.71L423.00 1207.34L426.21 1206.89L429.42 1206.35L432.62 1205.74L435.83 1205.04L439.04 1204.28L442.25 1203.44L445.45 1202.54L448.66 1201.57L451.87 1200.54L455.07 1199.45L458.28 1198.31L461.49 1197.11L464.69 1195.87L467.90 1194.57L471.11 1193.23L474.32 1191.85L477.52 1190.44L480.73 1188.99L483.94 1187.51L487.14 1186.01L490.35 1184.48L493.56 1182.94L496.77 1181.38L499.97 1179.81L503.18 1178.23L506.39 1176.65L509.59 1175.07L512.80 1173.48L516.01 1171.91L519.21 1170.35L522.42 1168.80L525.63 1167.26L528.84 1165.75L532.04 1164.26L535.25 1162.78L538.46 1161.33L541.66 1159.89L544.87 1158.48L548.08 1157.08L551.28 1155.70L554.49 1154.33L557.70 1152.99L560.91 1151.66L564.11 1150.35L567.32 1149.05L570.53 1147.77L573.73 1146.51L576.94 1145.26L580.15 1144.02L583.35 1142.81L586.56 1141.60L589.77 1140.41L592.98 1139.24L596.18 1138.08L599.39 1136.93L602.60 1135.79L605.80 1134.67L609.01 1133.56L612.22 1132.47L615.43 1131.38L618.63 1130.32L621.84 1129.26L625.05 1128.22L628.25 1127.19L631.46 1126.18L634.67 1125.18L637.87 1124.20L641.08 1123.23L644.29 1122.27L647.50 1121.33L650.70 1120.41L653.91 1119.50L657.12 1118.60L660.32 1117.72L663.53 1116.86L666.74 1116.01L669.94 1115.18L673.15 1114.36L676.36 1113.56L679.57 1112.77L682.77 1112.01L685.98 1111.25L689.19 1110.52L692.39 1109.80L695.60 1109.09L698.81 1108.41L702.01 1107.74L705.22 1107.09L708.43 1106.45L711.64 1105.83L714.84 1105.23L718.05 1104.65L721.26 1104.08L724.46 1103.52L727.67 1102.98L730.88 1102.46L734.08 1101.95L737.29 1101.46L740.50 1100.98L743.71 1100.51L746.91 1100.06L750.12 1099.63L753.33 1099.20L756.53 1098.80L759.74 1098.40L762.95 1098.02L766.16 1097.65L769.36 1097.30L772.57 1096.95L775.78 1096.62L778.98 1096.31L782.19 1096.00L785.40 1095.71L788.60 1095.42L791.81 1095.15L795.02 1094.89L798.23 1094.65L801.43 1094.41L804.64 1094.18L807.85 1093.97L811.05 1093.76L814.26 1093.56L817.47 1093.38L820.67 1093.20L823.88 1093.04L827.09 1092.88L830.30 1092.73L833.50 1092.59L836.71 1092.46L839.92 1092.34L843.12 1092.23L846.33 1092.12L849.54 1092.03L852.74 1091.94L855.95 1091.86L859.16 1091.79L862.37 1091.73L865.57 1091.68L868.78 1091.64L871.99 1091.60L875.19 1091.58L878.40 1091.56L881.61 1091.55L884.82 1091.55L888.02 1091.55L891.23 1091.57L894.44 1091.59L897.64 1091.62L900.85 1091.66L904.06 1091.71L907.26 1091.76L910.47 1091.83L913.68 1091.90L916.89 1091.98L920.09 1092.07L923.30 1092.16L926.51 1092.26L929.71 1092.37L932.92 1092.49L936.13 1092.62L939.33 1092.75L942.54 1092.89L945.75 1093.04L948.96 1093.20L952.16 1093.36L955.37 1093.54L958.58 1093.71L961.78 1093.90L964.99 1094.09L968.20 1094.30L971.40 1094.50L974.61 1094.72L977.82 1094.94L981.03 1095.17L984.23 1095.41L987.44 1095.65L990.65 1095.90L993.85 1096.16L997.06 1096.43L1000.27 1096.70L1003.47 1096.98L1006.68 1097.26L1009.89 1097.56L1013.10 1097.85L1016.30 1098.16L1019.51 1098.47L1022.72 1098.79L1025.92 1099.11L1029.13 1099.44L1032.34 1099.78L1035.55 1100.12L1038.75 1100.47L1041.96 1100.82L1045.17 1101.18L1048.37 1101.54L1051.58 1101.91L1054.79 1102.29L1057.99 1102.67L1061.20 1103.06L1064.41 1103.45L1067.62 1103.85L1070.82 1104.25L1074.03 1104.66L1077.24 1105.07L1080.44 1105.49L1083.65 1105.91L1086.86 1106.34L1090.06 1106.77L1093.27 1107.20L1096.48 1107.64L1099.69 1108.09L1102.89 1108.54L1106.10 1108.99L1109.31 1109.45L1112.51 1109.91L1115.72 1110.37L1118.93 1110.84L1122.13 1111.32L1125.34 1111.79L1128.55 1112.27L1131.76 1112.76L1134.96 1113.25L1138.17 1113.74L1141.38 1114.23L1144.58 1114.73L1147.79 1115.23L1151.00 1115.73L1154.21 1116.24L1157.41 1116.75L1160.62 1117.26L1163.83 1117.78L1167.03 1118.30L1170.24 1118.82L1173.45 1119.34L1176.65 1119.86L1179.86 1120.39L1183.07 1120.92L1186.28 1121.45L1189.48 1121.99L1192.69 1122.52L1195.90 1123.06L1199.10 1123.59L1202.31 1124.13L1205.52 1124.68L1208.72 1125.22L1211.93 1125.76L1215.14 1126.31L1218.35 1126.85L1221.55 1127.40L1224.76 1127.94L1227.97 1128.49L1231.17 1129.04L1234.38 1129.59L1237.59 1130.14L1240.79 1130.69L1244.00 1131.24L1247.21 1131.79L1250.42 1132.34L1253.62 1132.89L1256.83 1133.44L1260.04 1133.99L1263.24 1134.54L1266.45 1135.08L1269.66 1135.63L1272.86 1136.18L1276.07 1136.72L1279.28 1137.27L1282.49 1137.81L1285.69 1138.36L1288.90 1138.90" fill="none" stroke="#231f20" stroke-width="2.1"/>
<line x1="132.15" x2="1343.35" y1="1136.6" y2="1136.6" stroke="#231f20" stroke-width="3.5"/>
<rect x="132.15" y="661.3" width="1211.1999999999998" height="612.95" fill="none" stroke="#2e2c2d" stroke-width="2"/>
<line x1="121.7" x2="132.15" y1="797.9" y2="797.9" stroke="#2e2c2d" stroke-width="3.5"/>
<text transform="translate(114.2 810.3) scale(1 1.045)" font-size="32" text-anchor="end">1.02</text>
<line x1="121.7" x2="132.15" y1="967.25" y2="967.25" stroke="#2e2c2d" stroke-width="3.5"/>
<text transform="translate(114.2 979.6) scale(1 1.045)" font-size="32" text-anchor="end">1.01</text>
<line x1="121.7" x2="132.15" y1="1136.6" y2="1136.6" stroke="#2e2c2d" stroke-width="3.5"/>
<text transform="translate(114.2 1149.0) scale(1 1.045)" font-size="32" text-anchor="end">1.00</text>
<text transform="translate(737.7 725.8) scale(1 1.04)" font-size="35" text-anchor="middle">Cardiovascular</text>
<path d="M186.25 1349.08L187.45 1353.90L188.65 1358.75L189.84 1363.63L191.04 1368.54L192.24 1373.48L193.44 1378.45L194.64 1383.43L195.83 1388.44L197.03 1393.47L198.23 1398.52L199.43 1403.58L200.62 1408.66L201.82 1413.75L203.02 1418.85L204.22 1423.95L205.42 1429.07L206.61 1434.19L207.81 1439.31L209.01 1444.44L210.21 1449.56L211.41 1454.69L212.60 1459.81L213.80 1464.92L215.00 1470.02L216.20 1475.12L217.40 1480.20L218.59 1485.27L219.79 1490.33L220.99 1495.37L222.19 1500.39L223.39 1505.39L224.58 1510.37L225.78 1515.32L226.98 1520.25L228.18 1525.15L229.38 1530.02L230.57 1534.86L231.77 1539.66L232.97 1544.43L234.17 1549.17L235.36 1553.86L236.56 1558.51L237.76 1563.13L238.96 1567.69L240.16 1572.21L241.35 1576.69L242.55 1581.11L243.75 1585.48L244.95 1589.80L246.15 1594.07L247.34 1598.28L248.54 1602.43L249.74 1606.53L250.94 1610.58L252.14 1614.57L253.33 1618.51L254.53 1622.40L255.73 1626.24L256.93 1630.02L258.12 1633.76L259.32 1637.44L260.52 1641.08L261.72 1644.66L262.92 1648.19L264.11 1651.68L265.31 1655.11L266.51 1658.50L267.71 1661.84L268.91 1665.14L270.10 1668.38L271.30 1671.58L272.50 1674.74L273.70 1677.84L274.90 1680.91L276.09 1683.92L277.29 1686.90L278.49 1689.83L279.69 1692.71L280.89 1695.55L282.08 1698.35L283.28 1701.11L284.48 1703.83L285.68 1706.50L286.88 1709.14L288.07 1711.73L289.27 1714.28L290.47 1716.79L291.67 1719.27L292.86 1721.70L294.06 1724.10L295.26 1726.46L296.46 1728.78L297.66 1731.06L298.85 1733.31L300.05 1735.53L301.25 1737.71L302.45 1739.85L303.65 1741.96L304.84 1744.04L306.04 1746.09L307.24 1748.10L308.44 1750.09L309.64 1752.04L310.83 1753.97L312.03 1755.86L313.23 1757.72L314.43 1759.56L315.62 1761.37L316.82 1763.15L318.02 1764.91L319.22 1766.64L320.42 1768.35L321.61 1770.03L322.81 1771.68L324.01 1773.31L325.21 1774.92L326.41 1776.51L327.60 1778.07L328.80 1779.60L330.00 1781.12L333.21 1785.05L336.41 1788.81L339.62 1792.41L342.83 1795.83L346.04 1799.09L349.24 1802.18L352.45 1805.11L355.66 1807.86L358.86 1810.47L362.07 1812.92L365.28 1815.25L368.48 1817.44L371.69 1819.52L374.90 1821.49L378.11 1823.37L381.31 1825.15L384.52 1826.86L387.73 1828.50L390.93 1830.07L394.14 1831.56L397.35 1832.96L400.55 1834.28L403.76 1835.51L406.97 1836.65L410.18 1837.69L413.38 1838.62L416.59 1839.45L419.80 1840.17L423.00 1840.78L426.21 1841.27L429.42 1841.67L432.62 1841.97L435.83 1842.17L439.04 1842.30L442.25 1842.35L445.45 1842.33L448.66 1842.25L451.87 1842.11L455.07 1841.92L458.28 1841.68L461.49 1841.41L464.69 1841.11L467.90 1840.78L471.11 1840.43L474.32 1840.05L477.52 1839.66L480.73 1839.24L483.94 1838.80L487.14 1838.35L490.35 1837.87L493.56 1837.38L496.77 1836.88L499.97 1836.36L503.18 1835.82L506.39 1835.27L509.59 1834.70L512.80 1834.13L516.01 1833.54L519.21 1832.94L522.42 1832.34L525.63 1831.72L528.84 1831.10L532.04 1830.47L535.25 1829.83L538.46 1829.18L541.66 1828.54L544.87 1827.88L548.08 1827.22L551.28 1826.56L554.49 1825.90L557.70 1825.23L560.91 1824.56L564.11 1823.90L567.32 1823.23L570.53 1822.56L573.73 1821.89L576.94 1821.22L580.15 1820.56L583.35 1819.90L586.56 1819.24L589.77 1818.58L592.98 1817.93L596.18 1817.29L599.39 1816.65L602.60 1816.02L605.80 1815.39L609.01 1814.78L612.22 1814.16L615.43 1813.56L618.63 1812.96L621.84 1812.37L625.05 1811.79L628.25 1811.21L631.46 1810.65L634.67 1810.09L637.87 1809.53L641.08 1808.99L644.29 1808.45L647.50 1807.92L650.70 1807.40L653.91 1806.88L657.12 1806.38L660.32 1805.88L663.53 1805.39L666.74 1804.91L669.94 1804.44L673.15 1803.98L676.36 1803.52L679.57 1803.07L682.77 1802.64L685.98 1802.21L689.19 1801.79L692.39 1801.38L695.60 1800.98L698.81 1800.58L702.01 1800.20L705.22 1799.83L708.43 1799.46L711.64 1799.11L714.84 1798.77L718.05 1798.43L721.26 1798.10L724.46 1797.79L727.67 1797.48L730.88 1797.19L734.08 1796.90L737.29 1796.62L740.50 1796.36L743.71 1796.10L746.91 1795.86L750.12 1795.62L753.33 1795.40L756.53 1795.18L759.74 1794.98L762.95 1794.78L766.16 1794.60L769.36 1794.43L772.57 1794.27L775.78 1794.12L778.98 1793.98L782.19 1793.85L785.40 1793.73L788.60 1793.62L791.81 1793.52L795.02 1793.44L798.23 1793.37L801.43 1793.30L804.64 1793.25L807.85 1793.21L811.05 1793.18L814.26 1793.17L817.47 1793.16L820.67 1793.17L823.88 1793.19L827.09 1793.22L830.30 1793.26L833.50 1793.31L836.71 1793.38L839.92 1793.45L843.12 1793.54L846.33 1793.64L849.54 1793.75L852.74 1793.87L855.95 1794.00L859.16 1794.14L862.37 1794.28L865.57 1794.44L868.78 1794.61L871.99 1794.79L875.19 1794.97L878.40 1795.17L881.61 1795.37L884.82 1795.58L888.02 1795.80L891.23 1796.03L894.44 1796.26L897.64 1796.50L900.85 1796.75L904.06 1797.00L907.26 1797.26L910.47 1797.53L913.68 1797.80L916.89 1798.08L920.09 1798.36L923.30 1798.65L926.51 1798.94L929.71 1799.24L932.92 1799.54L936.13 1799.85L939.33 1800.16L942.54 1800.47L945.75 1800.79L948.96 1801.11L952.16 1801.43L955.37 1801.76L958.58 1802.09L961.78 1802.42L964.99 1802.75L968.20 1803.09L971.40 1803.42L974.61 1803.76L977.82 1804.10L981.03 1804.44L984.23 1804.78L987.44 1805.12L990.65 1805.46L993.85 1805.80L997.06 1806.14L1000.27 1806.48L1003.47 1806.82L1006.68 1807.16L1009.89 1807.50L1013.10 1807.84L1016.30 1808.17L1019.51 1808.51L1022.72 1808.85L1025.92 1809.18L1029.13 1809.51L1032.34 1809.84L1035.55 1810.17L1038.75 1810.50L1041.96 1810.83L1045.17 1811.15L1048.37 1811.48L1051.58 1811.80L1054.79 1812.12L1057.99 1812.43L1061.20 1812.75L1064.41 1813.06L1067.62 1813.37L1070.82 1813.67L1074.03 1813.98L1077.24 1814.28L1080.44 1814.58L1083.65 1814.87L1086.86 1815.16L1090.06 1815.45L1093.27 1815.74L1096.48 1816.02L1099.69 1816.30L1102.89 1816.57L1106.10 1816.84L1109.31 1817.11L1112.51 1817.37L1115.72 1817.63L1118.93 1817.88L1122.13 1818.13L1125.34 1818.38L1128.55 1818.62L1131.76 1818.85L1134.96 1819.09L1138.17 1819.31L1141.38 1819.53L1144.58 1819.75L1147.79 1819.96L1151.00 1820.17L1154.21 1820.37L1157.41 1820.57L1160.62 1820.76L1163.83 1820.95L1167.03 1821.14L1170.24 1821.32L1173.45 1821.50L1176.65 1821.68L1179.86 1821.85L1183.07 1822.02L1186.28 1822.18L1189.48 1822.34L1192.69 1822.50L1195.90 1822.66L1199.10 1822.81L1202.31 1822.97L1205.52 1823.12L1208.72 1823.26L1211.93 1823.41L1215.14 1823.55L1218.35 1823.69L1221.55 1823.84L1224.76 1823.97L1227.97 1824.11L1231.17 1824.25L1234.38 1824.39L1237.59 1824.52L1240.79 1824.66L1244.00 1824.79L1247.21 1824.92L1250.42 1825.06L1253.62 1825.19L1256.83 1825.33L1260.04 1825.46L1263.24 1825.59L1266.45 1825.73L1269.66 1825.86L1272.86 1826.00L1276.07 1826.14L1279.28 1826.28L1282.49 1826.42L1285.69 1826.56L1288.90 1826.70L1288.90 1895.30L1285.69 1894.42L1282.49 1893.54L1279.28 1892.65L1276.07 1891.77L1272.86 1890.89L1269.66 1890.01L1266.45 1889.13L1263.24 1888.25L1260.04 1887.37L1256.83 1886.49L1253.62 1885.62L1250.42 1884.75L1247.21 1883.87L1244.00 1883.01L1240.79 1882.14L1237.59 1881.27L1234.38 1880.41L1231.17 1879.55L1227.97 1878.70L1224.76 1877.85L1221.55 1877.00L1218.35 1876.15L1215.14 1875.31L1211.93 1874.47L1208.72 1873.64L1205.52 1872.81L1202.31 1871.99L1199.10 1871.17L1195.90 1870.35L1192.69 1869.55L1189.48 1868.74L1186.28 1867.94L1183.07 1867.15L1179.86 1866.37L1176.65 1865.59L1173.45 1864.81L1170.24 1864.05L1167.03 1863.29L1163.83 1862.53L1160.62 1861.79L1157.41 1861.05L1154.21 1860.31L1151.00 1859.59L1147.79 1858.87L1144.58 1858.17L1141.38 1857.47L1138.17 1856.78L1134.96 1856.09L1131.76 1855.42L1128.55 1854.75L1125.34 1854.10L1122.13 1853.45L1118.93 1852.81L1115.72 1852.18L1112.51 1851.56L1109.31 1850.95L1106.10 1850.34L1102.89 1849.75L1099.69 1849.16L1096.48 1848.58L1093.27 1848.02L1090.06 1847.46L1086.86 1846.91L1083.65 1846.37L1080.44 1845.84L1077.24 1845.32L1074.03 1844.81L1070.82 1844.30L1067.62 1843.81L1064.41 1843.33L1061.20 1842.85L1057.99 1842.39L1054.79 1841.93L1051.58 1841.49L1048.37 1841.05L1045.17 1840.63L1041.96 1840.21L1038.75 1839.81L1035.55 1839.41L1032.34 1839.02L1029.13 1838.65L1025.92 1838.28L1022.72 1837.92L1019.51 1837.58L1016.30 1837.24L1013.10 1836.92L1009.89 1836.60L1006.68 1836.30L1003.47 1836.00L1000.27 1835.72L997.06 1835.44L993.85 1835.18L990.65 1834.93L987.44 1834.68L984.23 1834.45L981.03 1834.23L977.82 1834.02L974.61 1833.82L971.40 1833.62L968.20 1833.44L964.99 1833.26L961.78 1833.10L958.58 1832.94L955.37 1832.80L952.16 1832.66L948.96 1832.52L945.75 1832.40L942.54 1832.29L939.33 1832.18L936.13 1832.08L932.92 1831.98L929.71 1831.90L926.51 1831.82L923.30 1831.75L920.09 1831.68L916.89 1831.62L913.68 1831.57L910.47 1831.52L907.26 1831.47L904.06 1831.44L900.85 1831.41L897.64 1831.38L894.44 1831.36L891.23 1831.34L888.02 1831.33L884.82 1831.32L881.61 1831.31L878.40 1831.31L875.19 1831.31L871.99 1831.32L868.78 1831.33L865.57 1831.34L862.37 1831.36L859.16 1831.37L855.95 1831.39L852.74 1831.42L849.54 1831.44L846.33 1831.47L843.12 1831.49L839.92 1831.52L836.71 1831.55L833.50 1831.58L830.30 1831.62L827.09 1831.65L823.88 1831.68L820.67 1831.72L817.47 1831.76L814.26 1831.79L811.05 1831.83L807.85 1831.88L804.64 1831.92L801.43 1831.97L798.23 1832.02L795.02 1832.08L791.81 1832.14L788.60 1832.20L785.40 1832.27L782.19 1832.34L778.98 1832.41L775.78 1832.50L772.57 1832.58L769.36 1832.68L766.16 1832.78L762.95 1832.88L759.74 1832.99L756.53 1833.11L753.33 1833.24L750.12 1833.37L746.91 1833.51L743.71 1833.66L740.50 1833.82L737.29 1833.99L734.08 1834.16L730.88 1834.35L727.67 1834.54L724.46 1834.75L721.26 1834.96L718.05 1835.19L714.84 1835.42L711.64 1835.67L708.43 1835.93L705.22 1836.19L702.01 1836.47L698.81 1836.77L695.60 1837.07L692.39 1837.39L689.19 1837.72L685.98 1838.06L682.77 1838.42L679.57 1838.78L676.36 1839.16L673.15 1839.55L669.94 1839.96L666.74 1840.37L663.53 1840.80L660.32 1841.24L657.12 1841.69L653.91 1842.16L650.70 1842.63L647.50 1843.12L644.29 1843.62L641.08 1844.14L637.87 1844.66L634.67 1845.20L631.46 1845.75L628.25 1846.31L625.05 1846.89L621.84 1847.48L618.63 1848.07L615.43 1848.69L612.22 1849.31L609.01 1849.95L605.80 1850.59L602.60 1851.25L599.39 1851.93L596.18 1852.61L592.98 1853.31L589.77 1854.02L586.56 1854.75L583.35 1855.50L580.15 1856.26L576.94 1857.04L573.73 1857.84L570.53 1858.67L567.32 1859.51L564.11 1860.38L560.91 1861.27L557.70 1862.19L554.49 1863.13L551.28 1864.10L548.08 1865.10L544.87 1866.13L541.66 1867.18L538.46 1868.27L535.25 1869.40L532.04 1870.55L528.84 1871.74L525.63 1872.97L522.42 1874.23L519.21 1875.52L516.01 1876.85L512.80 1878.20L509.59 1879.56L506.39 1880.95L503.18 1882.34L499.97 1883.74L496.77 1885.14L493.56 1886.53L490.35 1887.92L487.14 1889.29L483.94 1890.65L480.73 1891.99L477.52 1893.30L474.32 1894.57L471.11 1895.81L467.90 1897.02L464.69 1898.17L461.49 1899.28L458.28 1900.33L455.07 1901.33L451.87 1902.27L448.66 1903.14L445.45 1903.95L442.25 1904.69L439.04 1905.35L435.83 1905.94L432.62 1906.44L429.42 1906.86L426.21 1907.20L423.00 1907.44L419.80 1907.59L416.59 1907.64L413.38 1907.59L410.18 1907.42L406.97 1907.15L403.76 1906.76L400.55 1906.25L397.35 1905.61L394.14 1904.85L390.93 1903.94L387.73 1902.90L384.52 1901.71L381.31 1900.37L378.11 1898.87L374.90 1897.21L371.69 1895.39L368.48 1893.38L365.28 1891.19L362.07 1888.81L358.86 1886.23L355.66 1883.45L352.45 1880.45L349.24 1877.24L346.04 1873.80L342.83 1870.14L339.62 1866.24L336.41 1862.10L333.21 1857.71L330.00 1853.08L328.80 1851.28L327.60 1849.45L326.41 1847.58L325.21 1845.68L324.01 1843.74L322.81 1841.76L321.61 1839.74L320.42 1837.69L319.22 1835.60L318.02 1833.48L316.82 1831.32L315.62 1829.13L314.43 1826.90L313.23 1824.64L312.03 1822.35L310.83 1820.03L309.64 1817.68L308.44 1815.30L307.24 1812.89L306.04 1810.46L304.84 1807.99L303.65 1805.50L302.45 1802.99L301.25 1800.45L300.05 1797.89L298.85 1795.30L297.66 1792.70L296.46 1790.07L295.26 1787.42L294.06 1784.75L292.86 1782.06L291.67 1779.36L290.47 1776.64L289.27 1773.90L288.07 1771.14L286.88 1768.37L285.68 1765.58L284.48 1762.78L283.28 1759.96L282.08 1757.12L280.89 1754.27L279.69 1751.40L278.49 1748.51L277.29 1745.61L276.09 1742.69L274.90 1739.76L273.70 1736.81L272.50 1733.84L271.30 1730.85L270.10 1727.85L268.91 1724.84L267.71 1721.81L266.51 1718.76L265.31 1715.69L264.11 1712.61L262.92 1709.51L261.72 1706.39L260.52 1703.26L259.32 1700.11L258.12 1696.95L256.93 1693.77L255.73 1690.57L254.53 1687.36L253.33 1684.13L252.14 1680.88L250.94 1677.61L249.74 1674.33L248.54 1671.04L247.34 1667.72L246.15 1664.39L244.95 1661.05L243.75 1657.68L242.55 1654.30L241.35 1650.91L240.16 1647.50L238.96 1644.08L237.76 1640.65L236.56 1637.21L235.36 1633.76L234.17 1630.31L232.97 1626.84L231.77 1623.38L230.57 1619.90L229.38 1616.43L228.18 1612.95L226.98 1609.47L225.78 1605.99L224.58 1602.51L223.39 1599.03L222.19 1595.55L220.99 1592.08L219.79 1588.62L218.59 1585.16L217.40 1581.71L216.20 1578.27L215.00 1574.84L213.80 1571.41L212.60 1568.01L211.41 1564.61L210.21 1561.23L209.01 1557.86L207.81 1554.51L206.61 1551.18L205.42 1547.86L204.22 1544.57L203.02 1541.30L201.82 1538.04L200.62 1534.81L199.43 1531.61L198.23 1528.43L197.03 1525.28L195.83 1522.15L194.64 1519.05L193.44 1515.98L192.24 1512.95L191.04 1509.94L189.84 1506.97L188.65 1504.03L187.45 1501.13L186.25 1498.26Z" fill="#d0d1d3"/>
<path d="M186.25 1424.63L187.45 1428.82L188.65 1433.02L189.84 1437.22L191.04 1441.42L192.24 1445.62L193.44 1449.82L194.64 1454.02L195.83 1458.22L197.03 1462.42L198.23 1466.61L199.43 1470.81L200.62 1475.00L201.82 1479.19L203.02 1483.38L204.22 1487.56L205.42 1491.74L206.61 1495.92L207.81 1500.09L209.01 1504.26L210.21 1508.42L211.41 1512.57L212.60 1516.72L213.80 1520.86L215.00 1525.00L216.20 1529.12L217.40 1533.24L218.59 1537.35L219.79 1541.46L220.99 1545.55L222.19 1549.63L223.39 1553.71L224.58 1557.77L225.78 1561.82L226.98 1565.86L228.18 1569.89L229.38 1573.91L230.57 1577.91L231.77 1581.90L232.97 1585.88L234.17 1589.85L235.36 1593.80L236.56 1597.74L237.76 1601.66L238.96 1605.56L240.16 1609.45L241.35 1613.33L242.55 1617.19L243.75 1621.03L244.95 1624.85L246.15 1628.66L247.34 1632.44L248.54 1636.21L249.74 1639.96L250.94 1643.69L252.14 1647.39L253.33 1651.08L254.53 1654.74L255.73 1658.38L256.93 1661.99L258.12 1665.58L259.32 1669.15L260.52 1672.69L261.72 1676.20L262.92 1679.68L264.11 1683.14L265.31 1686.56L266.51 1689.96L267.71 1693.33L268.91 1696.66L270.10 1699.96L271.30 1703.23L272.50 1706.47L273.70 1709.68L274.90 1712.84L276.09 1715.98L277.29 1719.08L278.49 1722.14L279.69 1725.16L280.89 1728.15L282.08 1731.09L283.28 1734.00L284.48 1736.87L285.68 1739.69L286.88 1742.47L288.07 1745.22L289.27 1747.91L290.47 1750.57L291.67 1753.18L292.86 1755.75L294.06 1758.27L295.26 1760.76L296.46 1763.20L297.66 1765.61L298.85 1767.97L300.05 1770.30L301.25 1772.59L302.45 1774.84L303.65 1777.06L304.84 1779.24L306.04 1781.39L307.24 1783.51L308.44 1785.59L309.64 1787.64L310.83 1789.67L312.03 1791.66L313.23 1793.62L314.43 1795.56L315.62 1797.46L316.82 1799.35L318.02 1801.20L319.22 1803.03L320.42 1804.84L321.61 1806.62L322.81 1808.39L324.01 1810.12L325.21 1811.84L326.41 1813.54L327.60 1815.21L328.80 1816.85L330.00 1818.48L333.21 1822.71L336.41 1826.76L339.62 1830.63L342.83 1834.32L346.04 1837.81L349.24 1841.10L352.45 1844.19L355.66 1847.08L358.86 1849.77L362.07 1852.27L365.28 1854.59L368.48 1856.73L371.69 1858.72L374.90 1860.55L378.11 1862.24L381.31 1863.80L384.52 1865.22L387.73 1866.53L390.93 1867.73L394.14 1868.80L397.35 1869.77L400.55 1870.63L403.76 1871.38L406.97 1872.02L410.18 1872.57L413.38 1873.01L416.59 1873.35L419.80 1873.60L423.00 1873.76L426.21 1873.83L429.42 1873.81L432.62 1873.71L435.83 1873.53L439.04 1873.28L442.25 1872.96L445.45 1872.58L448.66 1872.13L451.87 1871.63L455.07 1871.08L458.28 1870.48L461.49 1869.83L464.69 1869.14L467.90 1868.42L471.11 1867.66L474.32 1866.88L477.52 1866.06L480.73 1865.22L483.94 1864.35L487.14 1863.47L490.35 1862.56L493.56 1861.64L496.77 1860.70L499.97 1859.76L503.18 1858.80L506.39 1857.84L509.59 1856.87L512.80 1855.90L516.01 1854.94L519.21 1853.97L522.42 1853.01L525.63 1852.06L528.84 1851.12L532.04 1850.19L535.25 1849.27L538.46 1848.36L541.66 1847.46L544.87 1846.58L548.08 1845.70L551.28 1844.83L554.49 1843.98L557.70 1843.14L560.91 1842.31L564.11 1841.49L567.32 1840.68L570.53 1839.89L573.73 1839.11L576.94 1838.34L580.15 1837.59L583.35 1836.84L586.56 1836.11L589.77 1835.40L592.98 1834.70L596.18 1834.01L599.39 1833.33L602.60 1832.67L605.80 1832.03L609.01 1831.39L612.22 1830.77L615.43 1830.17L618.63 1829.57L621.84 1828.99L625.05 1828.43L628.25 1827.87L631.46 1827.33L634.67 1826.80L637.87 1826.29L641.08 1825.78L644.29 1825.29L647.50 1824.81L650.70 1824.34L653.91 1823.88L657.12 1823.43L660.32 1823.00L663.53 1822.57L666.74 1822.16L669.94 1821.76L673.15 1821.36L676.36 1820.98L679.57 1820.61L682.77 1820.24L685.98 1819.89L689.19 1819.54L692.39 1819.21L695.60 1818.88L698.81 1818.56L702.01 1818.26L705.22 1817.96L708.43 1817.67L711.64 1817.38L714.84 1817.11L718.05 1816.84L721.26 1816.59L724.46 1816.34L727.67 1816.10L730.88 1815.87L734.08 1815.64L737.29 1815.43L740.50 1815.22L743.71 1815.02L746.91 1814.83L750.12 1814.64L753.33 1814.47L756.53 1814.30L759.74 1814.14L762.95 1813.99L766.16 1813.85L769.36 1813.71L772.57 1813.58L775.78 1813.46L778.98 1813.35L782.19 1813.24L785.40 1813.14L788.60 1813.05L791.81 1812.97L795.02 1812.89L798.23 1812.82L801.43 1812.76L804.64 1812.71L807.85 1812.66L811.05 1812.62L814.26 1812.58L817.47 1812.56L820.67 1812.54L823.88 1812.53L827.09 1812.52L830.30 1812.52L833.50 1812.53L836.71 1812.54L839.92 1812.57L843.12 1812.59L846.33 1812.63L849.54 1812.67L852.74 1812.72L855.95 1812.77L859.16 1812.83L862.37 1812.90L865.57 1812.97L868.78 1813.05L871.99 1813.14L875.19 1813.23L878.40 1813.33L881.61 1813.43L884.82 1813.54L888.02 1813.66L891.23 1813.78L894.44 1813.91L897.64 1814.05L900.85 1814.19L904.06 1814.34L907.26 1814.49L910.47 1814.65L913.68 1814.82L916.89 1814.99L920.09 1815.16L923.30 1815.34L926.51 1815.53L929.71 1815.73L932.92 1815.93L936.13 1816.13L939.33 1816.34L942.54 1816.56L945.75 1816.78L948.96 1817.01L952.16 1817.24L955.37 1817.48L958.58 1817.72L961.78 1817.97L964.99 1818.22L968.20 1818.48L971.40 1818.74L974.61 1819.01L977.82 1819.29L981.03 1819.57L984.23 1819.85L987.44 1820.14L990.65 1820.44L993.85 1820.74L997.06 1821.04L1000.27 1821.35L1003.47 1821.66L1006.68 1821.98L1009.89 1822.30L1013.10 1822.63L1016.30 1822.96L1019.51 1823.30L1022.72 1823.64L1025.92 1823.98L1029.13 1824.33L1032.34 1824.69L1035.55 1825.04L1038.75 1825.40L1041.96 1825.77L1045.17 1826.13L1048.37 1826.50L1051.58 1826.88L1054.79 1827.26L1057.99 1827.64L1061.20 1828.02L1064.41 1828.41L1067.62 1828.80L1070.82 1829.20L1074.03 1829.59L1077.24 1829.99L1080.44 1830.40L1083.65 1830.80L1086.86 1831.21L1090.06 1831.62L1093.27 1832.03L1096.48 1832.45L1099.69 1832.86L1102.89 1833.28L1106.10 1833.71L1109.31 1834.13L1112.51 1834.56L1115.72 1834.98L1118.93 1835.41L1122.13 1835.84L1125.34 1836.28L1128.55 1836.71L1131.76 1837.15L1134.96 1837.58L1138.17 1838.02L1141.38 1838.46L1144.58 1838.90L1147.79 1839.35L1151.00 1839.79L1154.21 1840.24L1157.41 1840.68L1160.62 1841.13L1163.83 1841.58L1167.03 1842.03L1170.24 1842.48L1173.45 1842.94L1176.65 1843.40L1179.86 1843.85L1183.07 1844.31L1186.28 1844.78L1189.48 1845.24L1192.69 1845.71L1195.90 1846.17L1199.10 1846.64L1202.31 1847.12L1205.52 1847.59L1208.72 1848.07L1211.93 1848.55L1215.14 1849.03L1218.35 1849.51L1221.55 1850.00L1224.76 1850.49L1227.97 1850.98L1231.17 1851.48L1234.38 1851.97L1237.59 1852.47L1240.79 1852.98L1244.00 1853.48L1247.21 1853.99L1250.42 1854.50L1253.62 1855.02L1256.83 1855.54L1260.04 1856.06L1263.24 1856.58L1266.45 1857.11L1269.66 1857.64L1272.86 1858.17L1276.07 1858.71L1279.28 1859.25L1282.49 1859.80L1285.69 1860.35L1288.90 1860.90" fill="none" stroke="#231f20" stroke-width="2.1"/>
<line x1="132.15" x2="1343.35" y1="1858.45" y2="1858.45" stroke="#231f20" stroke-width="3.5"/>
<rect x="132.15" y="1322.1" width="1211.1999999999998" height="612.90" fill="none" stroke="#2e2c2d" stroke-width="2"/>
<line x1="121.7" x2="132.15" y1="1342.75" y2="1342.75" stroke="#2e2c2d" stroke-width="3.5"/>
<text transform="translate(114.2 1355.2) scale(1 1.045)" font-size="32" text-anchor="end">1.05</text>
<line x1="121.7" x2="132.15" y1="1445.9" y2="1445.9" stroke="#2e2c2d" stroke-width="3.5"/>
<text transform="translate(114.2 1458.3) scale(1 1.045)" font-size="32" text-anchor="end">1.04</text>
<line x1="121.7" x2="132.15" y1="1549.0" y2="1549.0" stroke="#2e2c2d" stroke-width="3.5"/>
<text transform="translate(114.2 1561.4) scale(1 1.045)" font-size="32" text-anchor="end">1.03</text>
<line x1="121.7" x2="132.15" y1="1652.15" y2="1652.15" stroke="#2e2c2d" stroke-width="3.5"/>
<text transform="translate(114.2 1664.6) scale(1 1.045)" font-size="32" text-anchor="end">1.02</text>
<line x1="121.7" x2="132.15" y1="1755.3" y2="1755.3" stroke="#2e2c2d" stroke-width="3.5"/>
<text transform="translate(114.2 1767.7) scale(1 1.045)" font-size="32" text-anchor="end">1.01</text>
<line x1="121.7" x2="132.15" y1="1858.45" y2="1858.45" stroke="#2e2c2d" stroke-width="3.5"/>
<text transform="translate(114.2 1870.9) scale(1 1.045)" font-size="32" text-anchor="end">1.00</text>
<text transform="translate(737.7 1386.5) scale(1 1.04)" font-size="35" text-anchor="middle">Respiratory</text>
<line x1="186.25" x2="186.25" y1="1935.0" y2="1945.8" stroke="#2e2c2d" stroke-width="3.5"/>
<text transform="translate(186.25 1977.2) scale(1 1.045)" font-size="32" text-anchor="middle">0</text>
<line x1="343.77" x2="343.77" y1="1935.0" y2="1945.8" stroke="#2e2c2d" stroke-width="3.5"/>
<text transform="translate(343.77 1977.2) scale(1 1.045)" font-size="32" text-anchor="middle">2</text>
<line x1="501.29" x2="501.29" y1="1935.0" y2="1945.8" stroke="#2e2c2d" stroke-width="3.5"/>
<text transform="translate(501.29 1977.2) scale(1 1.045)" font-size="32" text-anchor="middle">4</text>
<line x1="658.81" x2="658.81" y1="1935.0" y2="1945.8" stroke="#2e2c2d" stroke-width="3.5"/>
<text transform="translate(658.81 1977.2) scale(1 1.045)" font-size="32" text-anchor="middle">6</text>
<line x1="816.34" x2="816.34" y1="1935.0" y2="1945.8" stroke="#2e2c2d" stroke-width="3.5"/>
<text transform="translate(816.34 1977.2) scale(1 1.045)" font-size="32" text-anchor="middle">8</text>
<line x1="973.86" x2="973.86" y1="1935.0" y2="1945.8" stroke="#2e2c2d" stroke-width="3.5"/>
<text transform="translate(973.86 1977.2) scale(1 1.045)" font-size="32" text-anchor="middle">10</text>
<line x1="1131.38" x2="1131.38" y1="1935.0" y2="1945.8" stroke="#2e2c2d" stroke-width="3.5"/>
<text transform="translate(1131.38 1977.2) scale(1 1.045)" font-size="32" text-anchor="middle">12</text>
<line x1="1288.90" x2="1288.90" y1="1935.0" y2="1945.8" stroke="#2e2c2d" stroke-width="3.5"/>
<text transform="translate(1288.90 1977.2) scale(1 1.045)" font-size="32" text-anchor="middle">14</text>
<text transform="translate(738.6 2024.7) scale(1 1.025)" font-size="44.7" text-anchor="middle">Lag days</text>
<text transform="translate(32.7 965.9) rotate(-90) scale(1 1.025)" font-size="44.9" text-anchor="middle">Estimated effects</text>
</svg>
</body></html>
